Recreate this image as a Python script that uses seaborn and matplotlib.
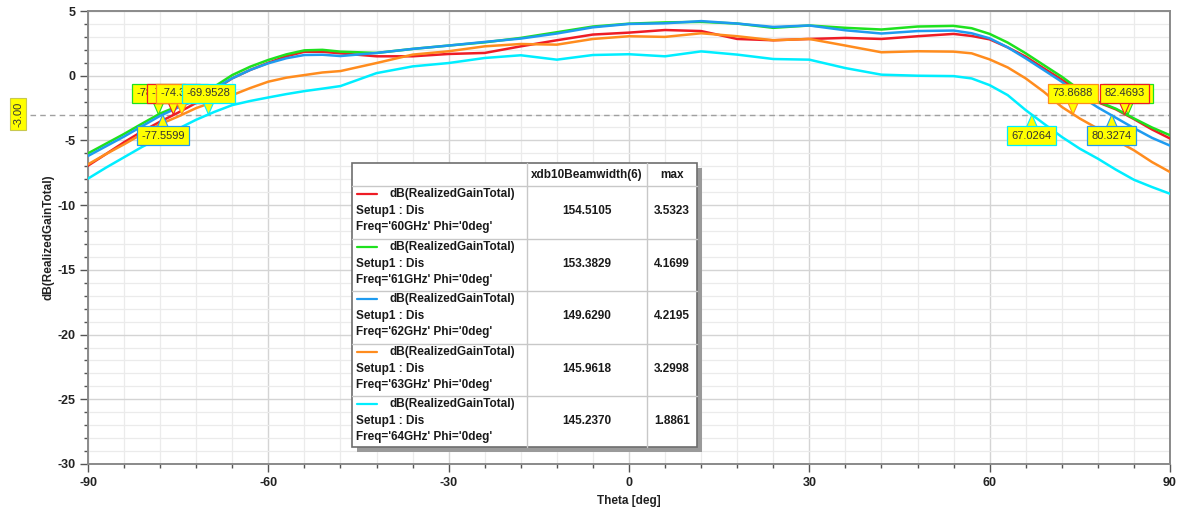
import numpy as np
import pandas as pd
import matplotlib
matplotlib.use("Agg")
import matplotlib.pyplot as plt
import matplotlib.transforms as mtransforms
from matplotlib.patches import Polygon, Rectangle
from matplotlib.lines import Line2D
import seaborn as sns

# ---------------- data ----------------
theta = [-90, -87, -84, -81, -78, -75, -72, -69, -66, -63, -60, -57, -54, -51, -48,
         -42, -36, -30, -24, -18, -12, -6, 0, 6, 12, 18, 24, 30, 36, 42, 48,
         54, 57, 60, 63, 66, 69, 72, 75, 78, 81, 84, 87, 90]

gain_60 = [-6.95, -6.05, -5.14, -4.30, -3.55, -2.85, -2.10, -1.10, -0.20, 0.45, 1.00, 1.50, 1.85, 1.85, 1.73,
           1.50, 1.50, 1.68, 1.76, 2.27, 2.74, 3.18, 3.33, 3.53, 3.45, 2.84, 2.74, 2.84, 2.92, 2.84, 3.05,
           3.23, 3.07, 2.81, 2.19, 1.47, 0.57, -0.30, -1.25, -2.05, -2.60, -3.35, -4.15, -4.85]
gain_61 = [-6.00, -5.25, -4.50, -3.70, -2.92, -2.35, -1.75, -0.85, 0.05, 0.70, 1.22, 1.65, 1.96, 2.00, 1.86,
           1.76, 2.07, 2.33, 2.58, 2.92, 3.36, 3.80, 4.02, 4.12, 4.16, 4.03, 3.70, 3.88, 3.70, 3.57, 3.80,
           3.85, 3.67, 3.23, 2.56, 1.73, 0.82, -0.08, -1.10, -2.00, -2.55, -3.30, -4.00, -4.60]
gain_62 = [-6.20, -5.45, -4.70, -3.90, -3.10, -2.45, -1.86, -1.00, -0.20, 0.45, 0.96, 1.35, 1.60, 1.62, 1.52,
           1.76, 2.07, 2.33, 2.61, 2.87, 3.26, 3.74, 4.00, 4.05, 4.22, 4.03, 3.77, 3.88, 3.51, 3.26, 3.45,
           3.49, 3.28, 2.89, 2.19, 1.34, 0.44, -0.47, -1.55, -2.45, -3.25, -4.05, -4.80, -5.40]
gain_63 = [-6.85, -6.05, -5.30, -4.50, -3.75, -3.15, -2.50, -2.00, -1.50, -0.95, -0.46, -0.15, 0.05, 0.25, 0.36,
           0.98, 1.63, 1.89, 2.27, 2.45, 2.40, 2.84, 3.05, 3.00, 3.28, 3.05, 2.74, 2.84, 2.33, 1.81, 1.89,
           1.86, 1.73, 1.26, 0.64, -0.21, -1.24, -2.41, -3.31, -4.09, -4.99, -5.76, -6.67, -7.44]
gain_64 = [-7.95, -7.10, -6.30, -5.50, -4.80, -4.10, -3.40, -2.80, -2.27, -1.95, -1.68, -1.42, -1.19, -1.00, -0.80,
           0.20, 0.72, 0.98, 1.37, 1.58, 1.24, 1.60, 1.66, 1.50, 1.88, 1.63, 1.29, 1.24, 0.59, 0.08, 0.00,
           -0.03, -0.21, -0.73, -1.50, -2.66, -3.70, -4.73, -5.64, -6.41, -7.26, -8.04, -8.60, -9.12]

freqs = ["60GHz", "61GHz", "62GHz", "63GHz", "64GHz"]
series = [gain_60, gain_61, gain_62, gain_63, gain_64]
colors = ["#EE1C25", "#1EE11E", "#1E9BF0", "#FF8C1E", "#00EEFF"]
beamwidth = ["154.5105", "153.3829", "149.6290", "145.9618", "145.2370"]
max_vals = ["3.5323", "4.1699", "4.2195", "3.2998", "1.8861"]

# -3 dB marker crossings (left / right) per series
left_marks = [-75.8012, -78.2736, -77.5599, -74.3904, -69.9528]
right_marks = [82.4693, 83.0146, 80.3274, 73.8688, 67.0264]
left_above = [True, True, False, True, True]
right_above = [True, True, False, True, False]
ref_level = -3.0

# ---------------- figure ----------------
W, H = 1200, 515
sns.set_style("white")
plt.rcParams["font.family"] = ["Liberation Sans", "DejaVu Sans"]
plt.rcParams["axes.unicode_minus"] = False

fig = plt.figure(figsize=(W / 100, H / 100), dpi=100, facecolor="white")
ax = fig.add_axes([88 / W, 1 - 464 / H, (1170 - 88) / W, (464 - 11) / H])

df = pd.concat([
    pd.DataFrame({"Theta": theta, "Gain": s, "Freq": f}) for s, f in zip(series, freqs)
])
sns.lineplot(data=df, x="Theta", y="Gain", hue="Freq", palette=dict(zip(freqs, colors)),
             linewidth=1.8, legend=False, ax=ax, sort=False, zorder=3)
for ln in ax.get_lines():
    ln.set_solid_joinstyle("round")

ax.set_xlim(-90, 90)
ax.set_ylim(-30, 5)
ax.set_xticks(np.arange(-90, 91, 30))
ax.set_xticks(np.arange(-90, 91, 6), minor=True)
ax.set_yticks(np.arange(-30, 6, 5))
ax.set_yticks(np.arange(-30, 6, 1), minor=True)
ax.grid(True, which="major", color="#D4D4D4", linewidth=1.0, zorder=0)
ax.grid(True, which="minor", color="#EBEBEB", linewidth=0.9, zorder=0)
ax.set_axisbelow(True)
for sp in ax.spines.values():
    sp.set_color("#8A8A8A")
    sp.set_linewidth(1.4)
ax.tick_params(which="major", direction="out", length=6, width=1, color="#555555",
               labelsize=9, pad=3, left=True, bottom=True)
ax.tick_params(which="minor", direction="out", length=3, width=1, color="#555555",
               left=True, bottom=True)
for lab in ax.get_xticklabels() + ax.get_yticklabels():
    lab.set_fontweight("bold")
    lab.set_color("#222222")

ax.set_xlabel("Theta [deg]", fontsize=8.5, fontweight="bold", color="#222222")
ax.set_ylabel("dB(RealizedGainTotal)", fontsize=8.5, fontweight="bold", color="#222222")
ax.xaxis.set_label_coords(0.5, -0.068)
ax.yaxis.set_label_coords(-0.031, 0.5)

# -3 dB reference line (extends a little left of the axes)
ax.axhline(ref_level, xmin=-0.054, xmax=1, color="#A0A0A0", linestyle=(0, (4, 3)),
           linewidth=1.0, clip_on=False, zorder=2)
fig.text(18 / W, 1 - 114 / H, "-3.00", rotation=90, ha="center", va="center",
         fontsize=8, color="#333333",
         bbox=dict(boxstyle="square,pad=0.3", fc="#FFFF00", ec="#C8C850", lw=0.8))


# ---------------- marker boxes ----------------
def marker(x, text, color, above, z):
    sgn = 1 if above else -1
    tri = Polygon([(0, 0), (-0.065, sgn * 0.15), (0.065, sgn * 0.15)], closed=True,
                  fc="#FFFF00", ec=color, lw=0.8, clip_on=False, zorder=z,
                  transform=fig.dpi_scale_trans + mtransforms.ScaledTranslation(x, ref_level, ax.transData))
    ax.add_patch(tri)
    ax.annotate(text, xy=(x, ref_level), xytext=(0, sgn * 15.2), textcoords="offset points",
                ha="center", va="center", fontsize=8, color="#333333", zorder=z + 0.5,
                annotation_clip=False,
                bbox=dict(boxstyle="square,pad=0.4", fc="#FFFF00", ec=color, lw=0.9))


z = 10
order_left = [1, 0, 3, 4, 2]
for i in order_left:
    marker(left_marks[i], f"{left_marks[i]:.4f}", colors[i], left_above[i], z)
    z += 1
order_right = [1, 0, 3, 4, 2]
for i in order_right:
    marker(right_marks[i], f"{right_marks[i]:.4f}", colors[i], right_above[i], z)
    z += 1


# ---------------- legend table (figure pixel coordinates) ----------------
def fx(x):
    return x / W


def fy(y):
    return 1 - y / H


tl, tr, tt, tb = 352, 697, 163, 447
c1, c2 = 527, 647
rows = [186, 239, 291, 344, 396, 447]

fig.add_artist(Rectangle((fx(tl + 5), fy(tb + 5)), (tr - tl) / W, (tb - tt) / H,
                         transform=fig.transFigure, fc="#9A9A9A", ec="none", zorder=20))
fig.add_artist(Rectangle((fx(tl), fy(tb)), (tr - tl) / W, (tb - tt) / H,
                         transform=fig.transFigure, fc="white", ec="#6E6E6E", lw=1.2, zorder=21))
for yv in rows[:-1]:
    fig.add_artist(Line2D([fx(tl), fx(tr)], [fy(yv), fy(yv)], transform=fig.transFigure,
                          color="#C8C8C8", lw=1.0, zorder=22))
for xv in (c1, c2):
    fig.add_artist(Line2D([fx(xv), fx(xv)], [fy(tt), fy(tb)], transform=fig.transFigure,
                          color="#C8C8C8", lw=1.0, zorder=22))

tkw = dict(fontsize=8.5, fontweight="bold", color="#1A1A1A", zorder=23)
fig.text(fx((c1 + c2) / 2), fy(175), "xdb10Beamwidth(6)", ha="center", va="center", **tkw)
fig.text(fx((c2 + tr) / 2), fy(175), "max", ha="center", va="center", **tkw)

for i, f in enumerate(freqs):
    top = rows[i]
    fig.add_artist(Line2D([fx(357), fx(377)], [fy(top + 8), fy(top + 8)], transform=fig.transFigure,
                          color=colors[i], lw=1.6, zorder=23))
    fig.text(fx(389), fy(top + 8), "dB(RealizedGainTotal)", ha="left", va="center", **tkw)
    fig.text(fx(356), fy(top + 25), "Setup1 : Dis", ha="left", va="center", **tkw)
    fig.text(fx(356), fy(top + 41), f"Freq='{f}' Phi='0deg'", ha="left", va="center", **tkw)
    fig.text(fx((c1 + c2) / 2), fy(top + 25), beamwidth[i], ha="center", va="center", **tkw)
    fig.text(fx((c2 + tr) / 2), fy(top + 25), max_vals[i], ha="center", va="center", **tkw)

fig.savefig("out.png", dpi=100, facecolor="white")
